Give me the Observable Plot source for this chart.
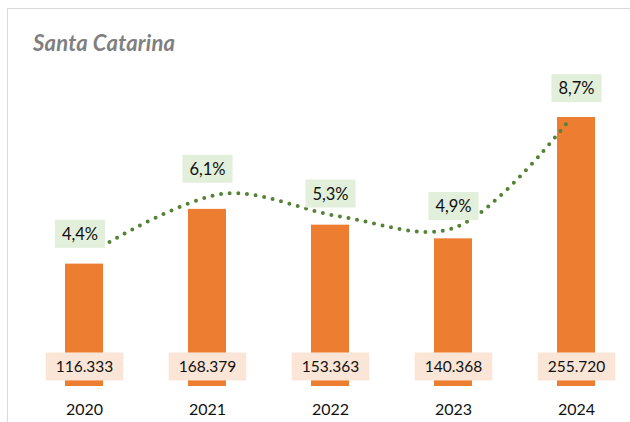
<!DOCTYPE html>
<html><head><meta charset="utf-8">
<script src="https://cdn.jsdelivr.net/npm/d3@7"></script>
<script src="https://cdn.jsdelivr.net/npm/@observablehq/plot@0.6"></script>
<style>
html,body{margin:0;padding:0;background:#fff;}
#wrap{position:relative;width:630px;height:422px;overflow:hidden;background:#fff;}
#frame{position:absolute;left:7px;top:8px;width:700px;height:500px;border-left:1px solid #d9d9d9;border-top:1px solid #d9d9d9;}
#title{position:absolute;left:33px;top:32px;font:italic bold 22px/22px Lato, sans-serif;color:#7f7f7f;white-space:nowrap;letter-spacing:0.2px;}
.layer{position:absolute;left:0;top:0;width:660px;height:422px;}
.layer svg{max-width:none !important;}
</style></head><body>
<div id="wrap">
  <div id="frame"></div>
  <div id="title">Santa Catarina</div>
  <div id="l1" class="layer"></div>
  <div id="l2" class="layer"></div>
  <div id="l3" class="layer"></div>
</div>
<script>
const years = ["2020", "2021", "2022", "2023", "2024"];
const values = [116333, 168379, 153363, 140368, 255720];
const shares = [4.4, 6.1, 5.3, 4.9, 8.7];

const data = years.map((year, i) => ({year, value: values[i], share: shares[i]}));
const loc = d3.formatLocale({decimal: ",", thousands: ".", grouping: [3], currency: ["", ""]});
const fmtValue = loc.format(",d");
const fmtShare = v => loc.format(".1f")(v) + "%";

const W = 660, H = 422;
const baseStyle = {background: "transparent", overflow: "visible", fontFamily: "Lato, sans-serif", fontSize: "15px", color: "#111", maxWidth: "none"};

const barPlot = Plot.plot({
  width: W, height: H,
  marginLeft: 22, marginRight: 22.5, marginTop: 70.4, marginBottom: 36,
  style: baseStyle,
  x: {domain: years, paddingInner: 0.69, paddingOuter: 0.345},
  y: {domain: [0, 300000], axis: null},
  marks: [
    Plot.barY(data, {x: "year", y: "value", fill: "#ed7d31"}),
    Plot.text(data, {x: "year", y: 0, dy: -19, text: d => fmtValue(d.value), fontSize: 15.5, fill: "#111", ariaDescription: "value-label"}),
    Plot.axisX({tickSize: 0, tickPadding: 17.5, fontSize: 16, fill: "#111", label: null})
  ]
});

const linePlot = Plot.plot({
  width: W, height: H,
  marginLeft: 108, marginRight: 90, marginTop: 82.2, marginBottom: 55.4,
  style: baseStyle,
  x: {type: "point", domain: years, padding: 0, axis: null},
  y: {domain: [0, 10], axis: null},
  marks: [
    Plot.line(data, {x: "year", y: "share", curve: "catmull-rom", stroke: "#548235", strokeWidth: 4, strokeDasharray: "0 8.7", strokeLinecap: "round"})
  ]
});

const labelPlot = Plot.plot({
  width: W, height: H,
  marginLeft: 22, marginRight: 22.5, marginTop: 48.1, marginBottom: 63.9,
  style: baseStyle,
  x: {domain: years, paddingInner: 0.69, paddingOuter: 0.345, axis: null},
  y: {domain: [0, 10], axis: null},
  marks: [
    Plot.text(data, {filter: (d, i) => i > 0, x: "year", y: "share", text: d => fmtShare(d.share), fontSize: 16.5, fill: "#111", ariaDescription: "share-label"}),
    Plot.text(data, {filter: (d, i) => i === 0, x: "year", y: "share", dx: -4.5, dy: 12.3, text: d => fmtShare(d.share), fontSize: 16.5, fill: "#111", ariaDescription: "share-label"})
  ]
});

document.getElementById("l1").appendChild(barPlot);
document.getElementById("l2").appendChild(linePlot);
document.getElementById("l3").appendChild(labelPlot);

function addBoxes(svg, label, padX, h, color) {
  d3.select(svg).selectAll(`g[aria-description="${label}"] text`).each(function() {
    const bb = this.getBBox();
    const cy = bb.y + bb.height / 2;
    const r = document.createElementNS("http://www.w3.org/2000/svg", "rect");
    r.setAttribute("x", bb.x - padX);
    r.setAttribute("y", cy - h / 2);
    r.setAttribute("width", bb.width + 2 * padX);
    r.setAttribute("height", h);
    r.setAttribute("fill", color);
    const t = this.getAttribute("transform");
    if (t) r.setAttribute("transform", t);
    this.parentNode.insertBefore(r, this);
  });
}
addBoxes(barPlot, "value-label", 10, 28, "#fbe5d6");
addBoxes(labelPlot, "share-label", 7, 28, "#e2efda");
</script>
</body></html>
